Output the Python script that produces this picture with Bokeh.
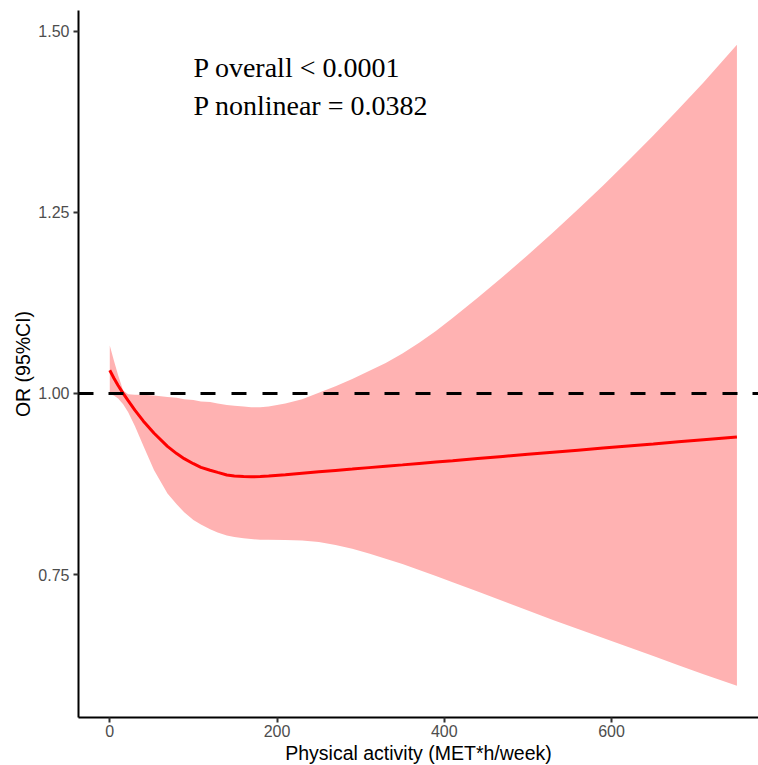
from bokeh.plotting import figure
from bokeh.models import Span, Label, FixedTicker, Range1d, Title
from bokeh.embed import file_html
from bokeh.resources import INLINE

# ---- data ----
met = [0, 5, 10, 16, 22, 30, 40, 53, 69, 80, 89, 100, 109, 120, 129, 140, 149,
       160, 169, 180, 190, 210, 230, 250, 270, 290, 310, 330, 350, 370, 390,
       410, 440, 470, 500, 530, 560, 590, 620, 650, 680, 710, 750]
or_est = [1.032, 1.021, 1.011, 1.000, 0.990, 0.977, 0.962, 0.945, 0.927, 0.917,
          0.910, 0.903, 0.898, 0.894, 0.891, 0.8875, 0.8862, 0.8853, 0.8850,
          0.8852, 0.8860, 0.8879, 0.8899, 0.8918, 0.8937, 0.8956, 0.8976, 0.8995,
          0.9014, 0.9034, 0.9053, 0.9072, 0.9101, 0.9130, 0.9159, 0.9188, 0.9217,
          0.9246, 0.9275, 0.9303, 0.9332, 0.9361, 0.9400]
or_upper = [1.066, 1.045, 1.025, 1.004, 0.999, 0.998, 0.998, 0.997, 0.995, 0.994,
            0.992, 0.991, 0.989, 0.988, 0.986, 0.984, 0.983, 0.982, 0.981, 0.981,
            0.982, 0.986, 0.992, 1.001, 1.010, 1.020, 1.031, 1.042, 1.055, 1.070,
            1.086, 1.104, 1.132, 1.161, 1.191, 1.222, 1.254, 1.287, 1.321, 1.356,
            1.392, 1.429, 1.481]
or_lower = [0.999, 0.997, 0.993, 0.985, 0.974, 0.955, 0.928, 0.894, 0.862, 0.847,
            0.836, 0.8255, 0.819, 0.8125, 0.808, 0.804, 0.802, 0.800, 0.799, 0.798,
            0.798, 0.7978, 0.797, 0.795, 0.791, 0.7855, 0.779, 0.772, 0.7645,
            0.7565, 0.748, 0.7395, 0.7265, 0.7135, 0.7005, 0.6875, 0.675, 0.6625,
            0.650, 0.6375, 0.625, 0.6125, 0.5965]

x_ticks = [0, 200, 400, 600]
x_tick_labels = ["0", "200", "400", "600"]
y_ticks = [0.75, 1.00, 1.25, 1.50]
y_tick_labels = ["0.75", "1.00", "1.25", "1.50"]
reference_or = 1.0
x_title = "Physical activity (MET*h/week)"
y_title = "OR (95%CI)"
annot_lines = ["P overall < 0.0001", "P nonlinear = 0.0382"]

SANS = "Liberation Sans"
SERIF = "Liberation Serif"

p = figure(width=758, height=765, output_backend="svg", toolbar_location=None,
           x_range=Range1d(-37.4, 775.8), y_range=Range1d(0.5528, 1.5284),
           min_border_left=78, min_border_right=0, min_border_top=10,
           min_border_bottom=48)
p.outline_line_color = None
p.xgrid.visible = False
p.ygrid.visible = False
p.background_fill_color = "white"
p.border_fill_color = "white"

# ribbon, line, reference line
p.varea(x=met, y1=or_lower, y2=or_upper, fill_color="#FFB2B2")
p.line(x=met, y=or_est, line_color="#FF0000", line_width=3)
p.add_layout(Span(location=reference_or, dimension="width", line_color="black",
                  line_width=3, line_dash="15 15 15 16 15 16"))

for ax, ticks, labels in ((p.xaxis[0], x_ticks, x_tick_labels),
                          (p.yaxis[0], y_ticks, y_tick_labels)):
    ax.ticker = FixedTicker(ticks=ticks)
    ax.major_label_overrides = dict(zip(ticks, labels))
    ax.axis_line_color = "black"
    ax.axis_line_width = 2
    ax.major_tick_line_color = "#333333"
    ax.major_tick_line_width = 2
    ax.major_tick_in = 0
    ax.major_tick_out = 5
    ax.minor_tick_line_color = None
    ax.major_label_text_font = SANS
    ax.major_label_text_font_size = "16px"
    ax.major_label_text_color = "#4D4D4D"
    ax.axis_label_text_font = SANS
    ax.axis_label_text_font_size = "19.5px"
    ax.axis_label_text_font_style = "normal"
    ax.axis_label_text_color = "black"

p.xaxis[0].major_label_standoff = 2
p.yaxis[0].axis_label = y_title
p.yaxis[0].major_label_standoff = 4
p.yaxis[0].axis_label_standoff = 1

p.add_layout(Title(text=x_title, align="center", offset=9, standoff=0,
                   text_font=SANS, text_font_size="19.5px",
                   text_font_style="normal", text_color="black"), "below")

for txt, yv in zip(annot_lines, (1.4493, 1.3972)):
    p.add_layout(Label(x=100, y=yv, text=txt, text_align="left",
                       text_baseline="alphabetic", text_font=SERIF,
                       text_font_size="28px", text_color="black"))

open("out.html", "w").write(file_html(p, INLINE))
